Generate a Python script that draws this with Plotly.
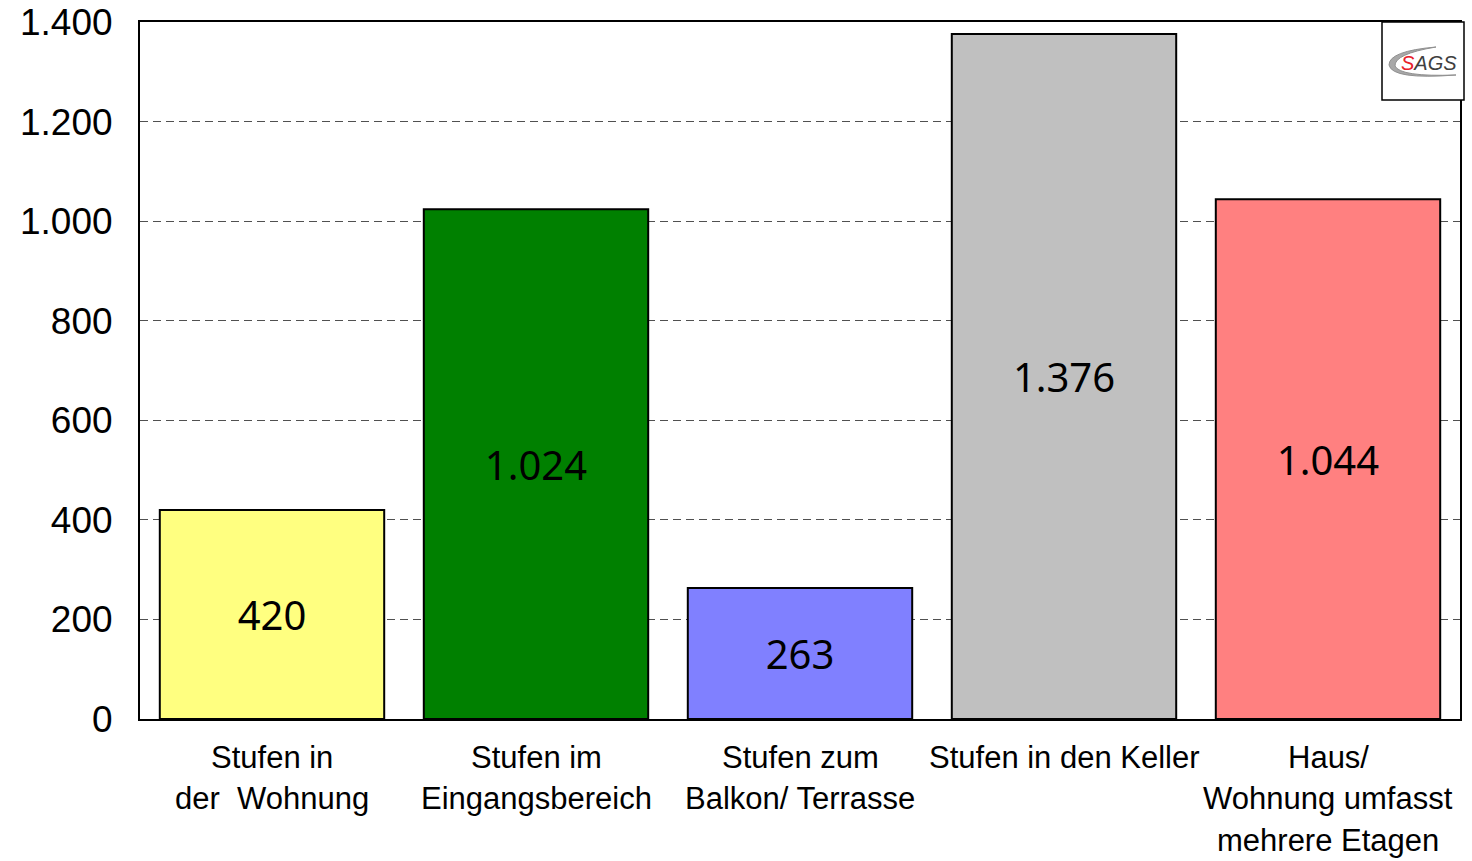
import plotly.graph_objects as go

categories = ["Stufen in der Wohnung", "Stufen im Eingangsbereich", "Stufen zum Balkon/ Terrasse",
              "Stufen in den Keller", "Haus/ Wohnung umfasst mehrere Etagen"]
label_lines = [
    ["Stufen in", "der\u00a0 Wohnung"],
    ["Stufen im", "Eingangsbereich"],
    ["Stufen zum", "Balkon/ Terrasse"],
    ["Stufen in den Keller"],
    ["Haus/", "Wohnung umfasst", "mehrere Etagen"],
]
values = [420, 1024, 263, 1376, 1044]
colors = ["#FFFF80", "#008000", "#8080FF", "#C0C0C0", "#FF8080"]
tick_values = [0, 200, 400, 600, 800, 1000, 1200, 1400]

W, H = 1472, 861
L, R, T, B = 140, 12, 22, 142
pw, ph = W - L - R, H - T - B

def px(x):
    return (x - L) / pw

def py(y):
    return (H - B - y) / ph

fig = go.Figure()
fig.add_trace(go.Bar(
    x=categories, y=values,
    marker=dict(color=colors, line=dict(color="black", width=2)),
    texttemplate="%{y:,}", textposition="inside", insidetextanchor="middle",
    textfont=dict(family="Noto Sans", size=40, color="black"),
    constraintext="none", cliponaxis=False, hoverinfo="skip",
))

annotations = []
line_offsets = [38, 79, 121]
for cat, lines in zip(categories, label_lines):
    for i, t in enumerate(lines):
        annotations.append(dict(
            x=cat, xref="x", y=0, yref="paper", text=t, showarrow=False,
            xanchor="center", yanchor="middle", yshift=-line_offsets[i],
            font=dict(family="Liberation Sans, Arial", size=31, color="black"),
        ))

# logo
annotations.append(dict(
    x=px(1429), y=py(63), xref="paper", yref="paper", showarrow=False,
    text="<i><span style='color:#E8202A'>S</span><span style='color:#404040'>AGS</span></i>",
    font=dict(family="Liberation Sans, Arial", size=20), xanchor="center", yanchor="middle",
))

def path(points):
    s = ""
    for cmd, pts in points:
        s += cmd + " " + " ".join(f"{px(x):.5f},{py(y):.5f}" for x, y in pts) + " "
    return s + "Z"

swoosh = path([
    ("M", [(1436, 47)]),
    ("Q", [(1389, 51), (1389, 65)]),
    ("Q", [(1392, 80), (1456, 75)]),
    ("Q", [(1400, 77), (1395, 66)]),
    ("Q", [(1394, 54), (1436, 47)]),
])

shapes = [
    dict(type="rect", xref="paper", yref="paper", x0=px(1382), x1=px(1464), y0=py(100), y1=py(22),
         line=dict(color="black", width=1.5), fillcolor="white", layer="above"),
    dict(type="path", xref="paper", yref="paper", path=swoosh,
         line=dict(color="#909090", width=1), fillcolor="#A8A8A8", layer="above"),
]

fig.update_layout(
    width=W, height=H,
    margin=dict(l=L, r=R, t=T, b=B, autoexpand=False),
    paper_bgcolor="white", plot_bgcolor="white",
    separators=",.",
    bargap=0.15,
    showlegend=False,
    hovermode=False,
    annotations=annotations,
    shapes=shapes,
    xaxis=dict(showticklabels=False, showline=True, linecolor="black", linewidth=2,
               mirror=True, showgrid=False, ticks="", automargin=False),
    yaxis=dict(range=[0, 1400], tickvals=tick_values, tickformat=",d",
               showline=True, linecolor="black", linewidth=2, mirror=True,
               showgrid=True, gridcolor="#505050", griddash="8px,5px", gridwidth=1,
               zeroline=False, ticks="", ticklabelstandoff=18, automargin=False,
               ticklabeloverflow="allow",
               tickfont=dict(family="Liberation Sans, Arial", size=37, color="black")),
)

fig.write_html("out.html",
               config={"displayModeBar": False, "staticPlot": True},
               post_script="document.body.style.margin='0';document.body.style.overflow='hidden';")
